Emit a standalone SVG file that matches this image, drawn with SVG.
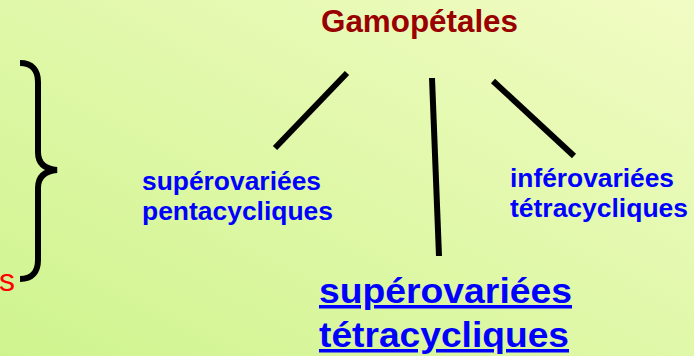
<svg xmlns="http://www.w3.org/2000/svg" width="694" height="356" viewBox="0 0 694 356">
<defs>
<linearGradient id="bg" x1="0" y1="1" x2="1" y2="0">
<stop offset="0" stop-color="#cff48e"/>
<stop offset="1" stop-color="#f1fcc4"/>
</linearGradient>
<style>
.t{font-family:"Liberation Sans",Arial,sans-serif;font-weight:bold;fill:#0000ff}
.s{font-size:25px}
.b{font-size:35px;text-decoration:underline}
.ln{stroke:#000;stroke-width:6;fill:none}
</style>
</defs>
<rect width="694" height="356" fill="url(#bg)"/>
<g id="brace">
<path class="ln" d="M20,63 C32,63 38,70 38,82 L38,152 C38,163 44,169 57,170 C44,171 38,177 38,188 L38,260 C38,272 32,279 20,279"/>
<text x="-1" y="291" font-family="Liberation Sans,Arial,sans-serif" font-size="32" fill="#ff0000">s</text>
</g>
<g id="connectors">
<line class="ln" x1="347" y1="73" x2="275" y2="148"/>
<line class="ln" x1="432" y1="78" x2="439" y2="256"/>
<line class="ln" x1="493" y1="81" x2="574" y2="156"/>
</g>
<g id="gamopetales">
<text x="321" y="32" font-family="Liberation Sans,Arial,sans-serif" font-weight="bold" font-size="31" fill="#990000" textLength="197" lengthAdjust="spacingAndGlyphs">Gamopétales</text>
</g>
<g id="superovariees-penta">
<text class="t s" x="142" y="190" textLength="179" lengthAdjust="spacingAndGlyphs">supérovariées</text>
<text class="t s" x="142" y="220" textLength="191" lengthAdjust="spacingAndGlyphs">pentacycliques</text>
</g>
<g id="inferovariees-tetra">
<text class="t s" x="510" y="187" textLength="164" lengthAdjust="spacingAndGlyphs">inférovariées</text>
<text class="t s" x="510" y="217" textLength="178" lengthAdjust="spacingAndGlyphs">tétracycliques</text>
</g>
<g id="superovariees-tetra">
<text class="t b" x="319" y="303" textLength="253" lengthAdjust="spacingAndGlyphs">supérovariées</text>
<text class="t b" x="319" y="347" textLength="250" lengthAdjust="spacingAndGlyphs">tétracycliques</text>
</g>
</svg>
